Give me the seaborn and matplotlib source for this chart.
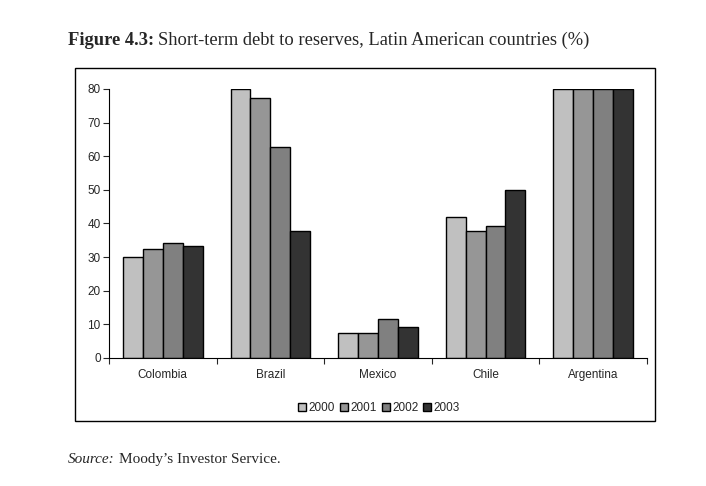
import pandas as pd
import seaborn as sns
import matplotlib.pyplot as plt
from matplotlib.patches import Rectangle
from matplotlib.ticker import FixedLocator

# 數據
countries = ['Colombia', 'Brazil', 'Mexico', 'Chile', 'Argentina']
years = ['2000', '2001', '2002', '2003']
debt_2000 = [30.0, 80.0, 7.4, 42.0, 80.0]
debt_2001 = [32.3, 77.2, 7.4, 37.7, 80.0]
debt_2002 = [34.1, 62.7, 11.5, 39.3, 80.0]
debt_2003 = [33.3, 37.7, 9.1, 50.0, 80.0]
colors = ['#c0c0c0', '#969696', '#808080', '#333333']

rows = []
for yr, vals in zip(years, [debt_2000, debt_2001, debt_2002, debt_2003]):
    for c, v in zip(countries, vals):
        rows.append({'country': c, 'year': yr, 'value': v})
df = pd.DataFrame(rows)

sns.set_style('white')
plt.rcParams['font.family'] = ['Liberation Sans', 'DejaVu Sans']

fig = plt.figure(figsize=(7.06, 4.86), dpi=100)
ax = fig.add_axes([0.1544, 0.2634, 0.762, 0.5535])

sns.barplot(data=df, x='country', y='value', hue='year', palette=colors,
            width=0.74, edgecolor='black', linewidth=1.0, ax=ax, legend=True)

ax.set_ylim(0, 80)
ax.set_xlim(-0.5, 4.5)
ax.set_yticks(range(0, 81, 10))
ax.set_xlabel('')
ax.set_ylabel('')
ax.tick_params(axis='y', labelsize=8.5, length=4, width=0.8, direction='out', left=True, pad=2)
ax.tick_params(axis='x', which='major', labelsize=8.5, length=0, pad=8)
ax.xaxis.set_minor_locator(FixedLocator([-0.5, 0.5, 1.5, 2.5, 3.5, 4.5]))
ax.tick_params(axis='x', which='minor', length=4, width=0.8, direction='out', bottom=True)
for s in ['top', 'right']:
    ax.spines[s].set_visible(False)
for s in ['left', 'bottom']:
    ax.spines[s].set_color('black')
    ax.spines[s].set_linewidth(0.8)

# 圖例
handles, labels = ax.get_legend_handles_labels()
ax.legend_.remove()
fig.legend(handles, labels, loc='center', bbox_to_anchor=(0.537, 0.16), ncol=4,
           frameon=False, fontsize=8.5, handlelength=0.7, handleheight=0.7,
           handletextpad=0.2, columnspacing=0.4)

# 外框
fig.patches.append(Rectangle((0.1062, 0.1337), 0.8216, 0.7264, transform=fig.transFigure,
                             fill=False, edgecolor='black', linewidth=1.0))

# 標題與來源：第二段文字接在第一段後面
renderer = fig.canvas.get_renderer()


def two_part(x, y, first, second, size, first_kw, gap_px):
    t1 = fig.text(x, y, first, fontsize=size, family=['Liberation Serif'],
                  ha='left', va='center', **first_kw)
    bb = t1.get_window_extent(renderer=renderer)
    x2 = (bb.x1 + gap_px) / fig.bbox.width
    fig.text(x2, y, second, fontsize=size, family=['Liberation Serif'],
             ha='left', va='center')


two_part(0.0963, 0.916, 'Figure 4.3:',
         'Short-term debt to reserves, Latin American countries (%)',
         13.3, {'fontweight': 'bold'}, 4)
two_part(0.0963, 0.054, 'Source:', 'Moody\u2019s Investor Service.',
         11, {'style': 'italic'}, 4)

plt.savefig('out.png', dpi=100)
plt.close()
